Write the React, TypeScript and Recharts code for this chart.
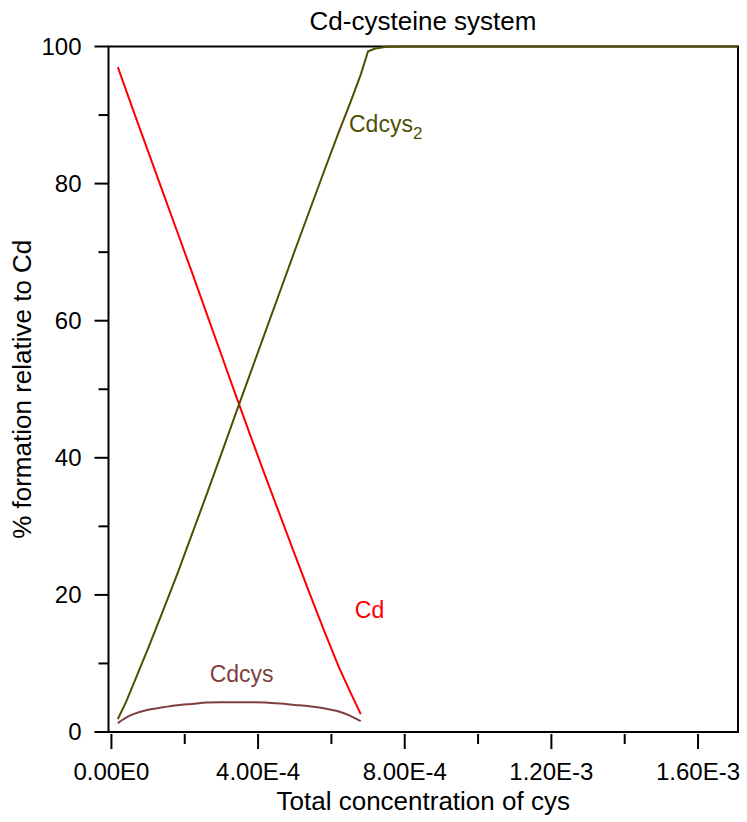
import React from 'react';
import {
  LineChart,
  Line,
  XAxis,
  YAxis,
  ReferenceArea,
  ReferenceDot,
  Label,
} from 'recharts';

// total cys concentration (M) where Cd / Cdcys were computed
const cdX = [1.75e-5, 4e-5, 6e-5, 1e-4, 1.4e-4, 1.8e-4, 2.2e-4, 2.6e-4, 3e-4, 3.4e-4, 3.8e-4, 4.2e-4, 4.6e-4, 5e-4, 5.4e-4, 5.8e-4, 6.2e-4, 6.5e-4, 6.8e-4];
const cdValues = [97.0, 93.6, 90.6, 84.7, 78.8, 72.9, 67.0, 61.0, 55.0, 49.0, 43.1, 37.3, 31.6, 25.9, 20.3, 14.8, 9.5, 6.0, 2.6];
const cdcysValues = [1.3, 2.1, 2.6, 3.25, 3.6, 3.9, 4.1, 4.3, 4.35, 4.35, 4.35, 4.3, 4.15, 3.95, 3.75, 3.45, 3.0, 2.4, 1.6];

const cdcys2X = [1.75e-5, 4e-5, 6e-5, 1e-4, 1.4e-4, 1.8e-4, 2.2e-4, 2.6e-4, 3e-4, 3.4e-4, 3.8e-4, 4.2e-4, 4.6e-4, 5e-4, 5.4e-4, 5.8e-4, 6.2e-4, 6.5e-4, 6.8e-4, 7e-4, 7.2e-4, 7.5e-4, 8e-4, 1e-3, 1.2e-3, 1.4e-3, 1.6e-3, 1.709e-3];
const cdcys2Values = [1.9, 4.4, 7.0, 12.2, 17.6, 23.1, 28.9, 34.7, 40.6, 46.6, 52.5, 58.4, 64.3, 70.2, 76.0, 81.8, 87.5, 91.6, 95.9, 99.3, 99.7, 99.95, 100, 100, 100, 100, 100, 100];

const xMajorValues = [0, 4e-4, 8e-4, 1.2e-3, 1.6e-3];
const xMajorLabels = ['0.00E0', '4.00E-4', '8.00E-4', '1.20E-3', '1.60E-3'];
const xMinorValues = [2e-4, 6e-4, 1e-3, 1.4e-3];
const yMajorValues = [0, 20, 40, 60, 80, 100];
const yMinorValues = [10, 30, 50, 70, 90];

const X_MIN = -8e-6;
const X_MAX = 1.709e-3;

const FONT = '"Liberation Sans", Arial, sans-serif';
const RED = '#ff0000';
const OLIVE = '#4f4f00';
const BROWN = '#7f3f3f';

const cdData = cdX.map((x, i) => ({ x, y: cdValues[i] }));
const cdcysData = cdX.map((x, i) => ({ x, y: cdcysValues[i] }));
const cdcys2Data = cdcys2X.map((x, i) => ({ x, y: cdcys2Values[i] }));

const xTicks = [...xMajorValues, ...xMinorValues].sort((a, b) => a - b);
const yTicks = [...yMajorValues, ...yMinorValues].sort((a, b) => a - b);

const XTick = (props: any) => {
  const { x, y, payload } = props;
  const idx = xMajorValues.findIndex(v => Math.abs(v - payload.value) < 1e-9);
  const major = idx >= 0;
  return (
    <g>
      <line x1={x} x2={x} y1={y + 2} y2={y + (major ? 17 : 12)} stroke="#000" strokeWidth={2} />
      {major && (
        <text x={x} y={y + 48} textAnchor="middle" fontSize={24} fontFamily={FONT} fill="#000">
          {xMajorLabels[idx]}
        </text>
      )}
    </g>
  );
};

const YTick = (props: any) => {
  const { x, y, payload } = props;
  const major = yMajorValues.includes(payload.value);
  return (
    <g>
      <line x1={x - (major ? 14 : 10)} x2={x} y1={y} y2={y} stroke="#000" strokeWidth={2} />
      {major && (
        <text x={x - 27} y={y} dy="0.35em" textAnchor="end" fontSize={24} fontFamily={FONT} fill="#000">
          {payload.value}
        </text>
      )}
    </g>
  );
};

const SeriesLabel = (props: any) => {
  const { viewBox, text, sub, color } = props;
  return (
    <text x={viewBox.x} y={viewBox.y} fill={color} fontSize={23} fontFamily={FONT}>
      {text}
      {sub && (
        <tspan dy={7} fontSize={17}>
          {sub}
        </tspan>
      )}
    </text>
  );
};

const App = () => {
  return (
    <div style={{ position: 'absolute', left: 0, top: 0, width: 747, height: 822, background: '#fff', fontFamily: FONT }}>
      <div
        style={{
          position: 'absolute',
          left: 108,
          width: 630,
          top: 8,
          textAlign: 'center',
          fontSize: 26,
          lineHeight: '26px',
          color: '#000',
        }}
      >
        Cd-cysteine system
      </div>
      <LineChart width={747} height={822} margin={{ top: 46.5, right: 9, left: 0, bottom: 0 }}>
        <XAxis
          type="number"
          dataKey="x"
          domain={[X_MIN, X_MAX]}
          ticks={xTicks}
          interval={0}
          allowDataOverflow
          axisLine={false}
          tickLine={false}
          tickSize={0}
          tickMargin={0}
          height={90}
          tick={<XTick />}
        >
          <Label
            value="Total concentration of cys"
            position="insideBottom"
            offset={12}
            style={{ fontSize: 26, fontFamily: FONT, fill: '#000' }}
          />
        </XAxis>
        <YAxis
          type="number"
          domain={[0, 100]}
          ticks={yTicks}
          interval={0}
          axisLine={false}
          tickLine={false}
          tickSize={0}
          tickMargin={0}
          width={108.5}
          tick={<YTick />}
        >
          <Label
            value="% formation relative to Cd"
            angle={-90}
            position="insideLeft"
            offset={22}
            style={{ fontSize: 26, fontFamily: FONT, fill: '#000', textAnchor: 'middle' }}
          />
        </YAxis>
        <ReferenceArea
          x1={X_MIN}
          x2={X_MAX}
          y1={0}
          y2={100}
          fill="none"
          fillOpacity={0}
          stroke="#000"
          strokeWidth={2}
          ifOverflow="visible"
        />
        <Line data={cdData} dataKey="y" type="linear" stroke={RED} strokeWidth={2} dot={false} isAnimationActive={false} />
        <Line data={cdcysData} dataKey="y" type="monotone" stroke={BROWN} strokeWidth={2} dot={false} isAnimationActive={false} />
        <Line data={cdcys2Data} dataKey="y" type="linear" stroke={OLIVE} strokeWidth={2} dot={false} isAnimationActive={false} />
        <ReferenceDot x={6.64e-4} y={16.7} r={0} fill="none" stroke="none" label={<SeriesLabel text="Cd" color={RED} />} />
        <ReferenceDot x={2.68e-4} y={7.3} r={0} fill="none" stroke="none" label={<SeriesLabel text="Cdcys" color={BROWN} />} />
        <ReferenceDot x={6.48e-4} y={87.6} r={0} fill="none" stroke="none" label={<SeriesLabel text="Cdcys" sub="2" color={OLIVE} />} />
      </LineChart>
    </div>
  );
};

export default App;
